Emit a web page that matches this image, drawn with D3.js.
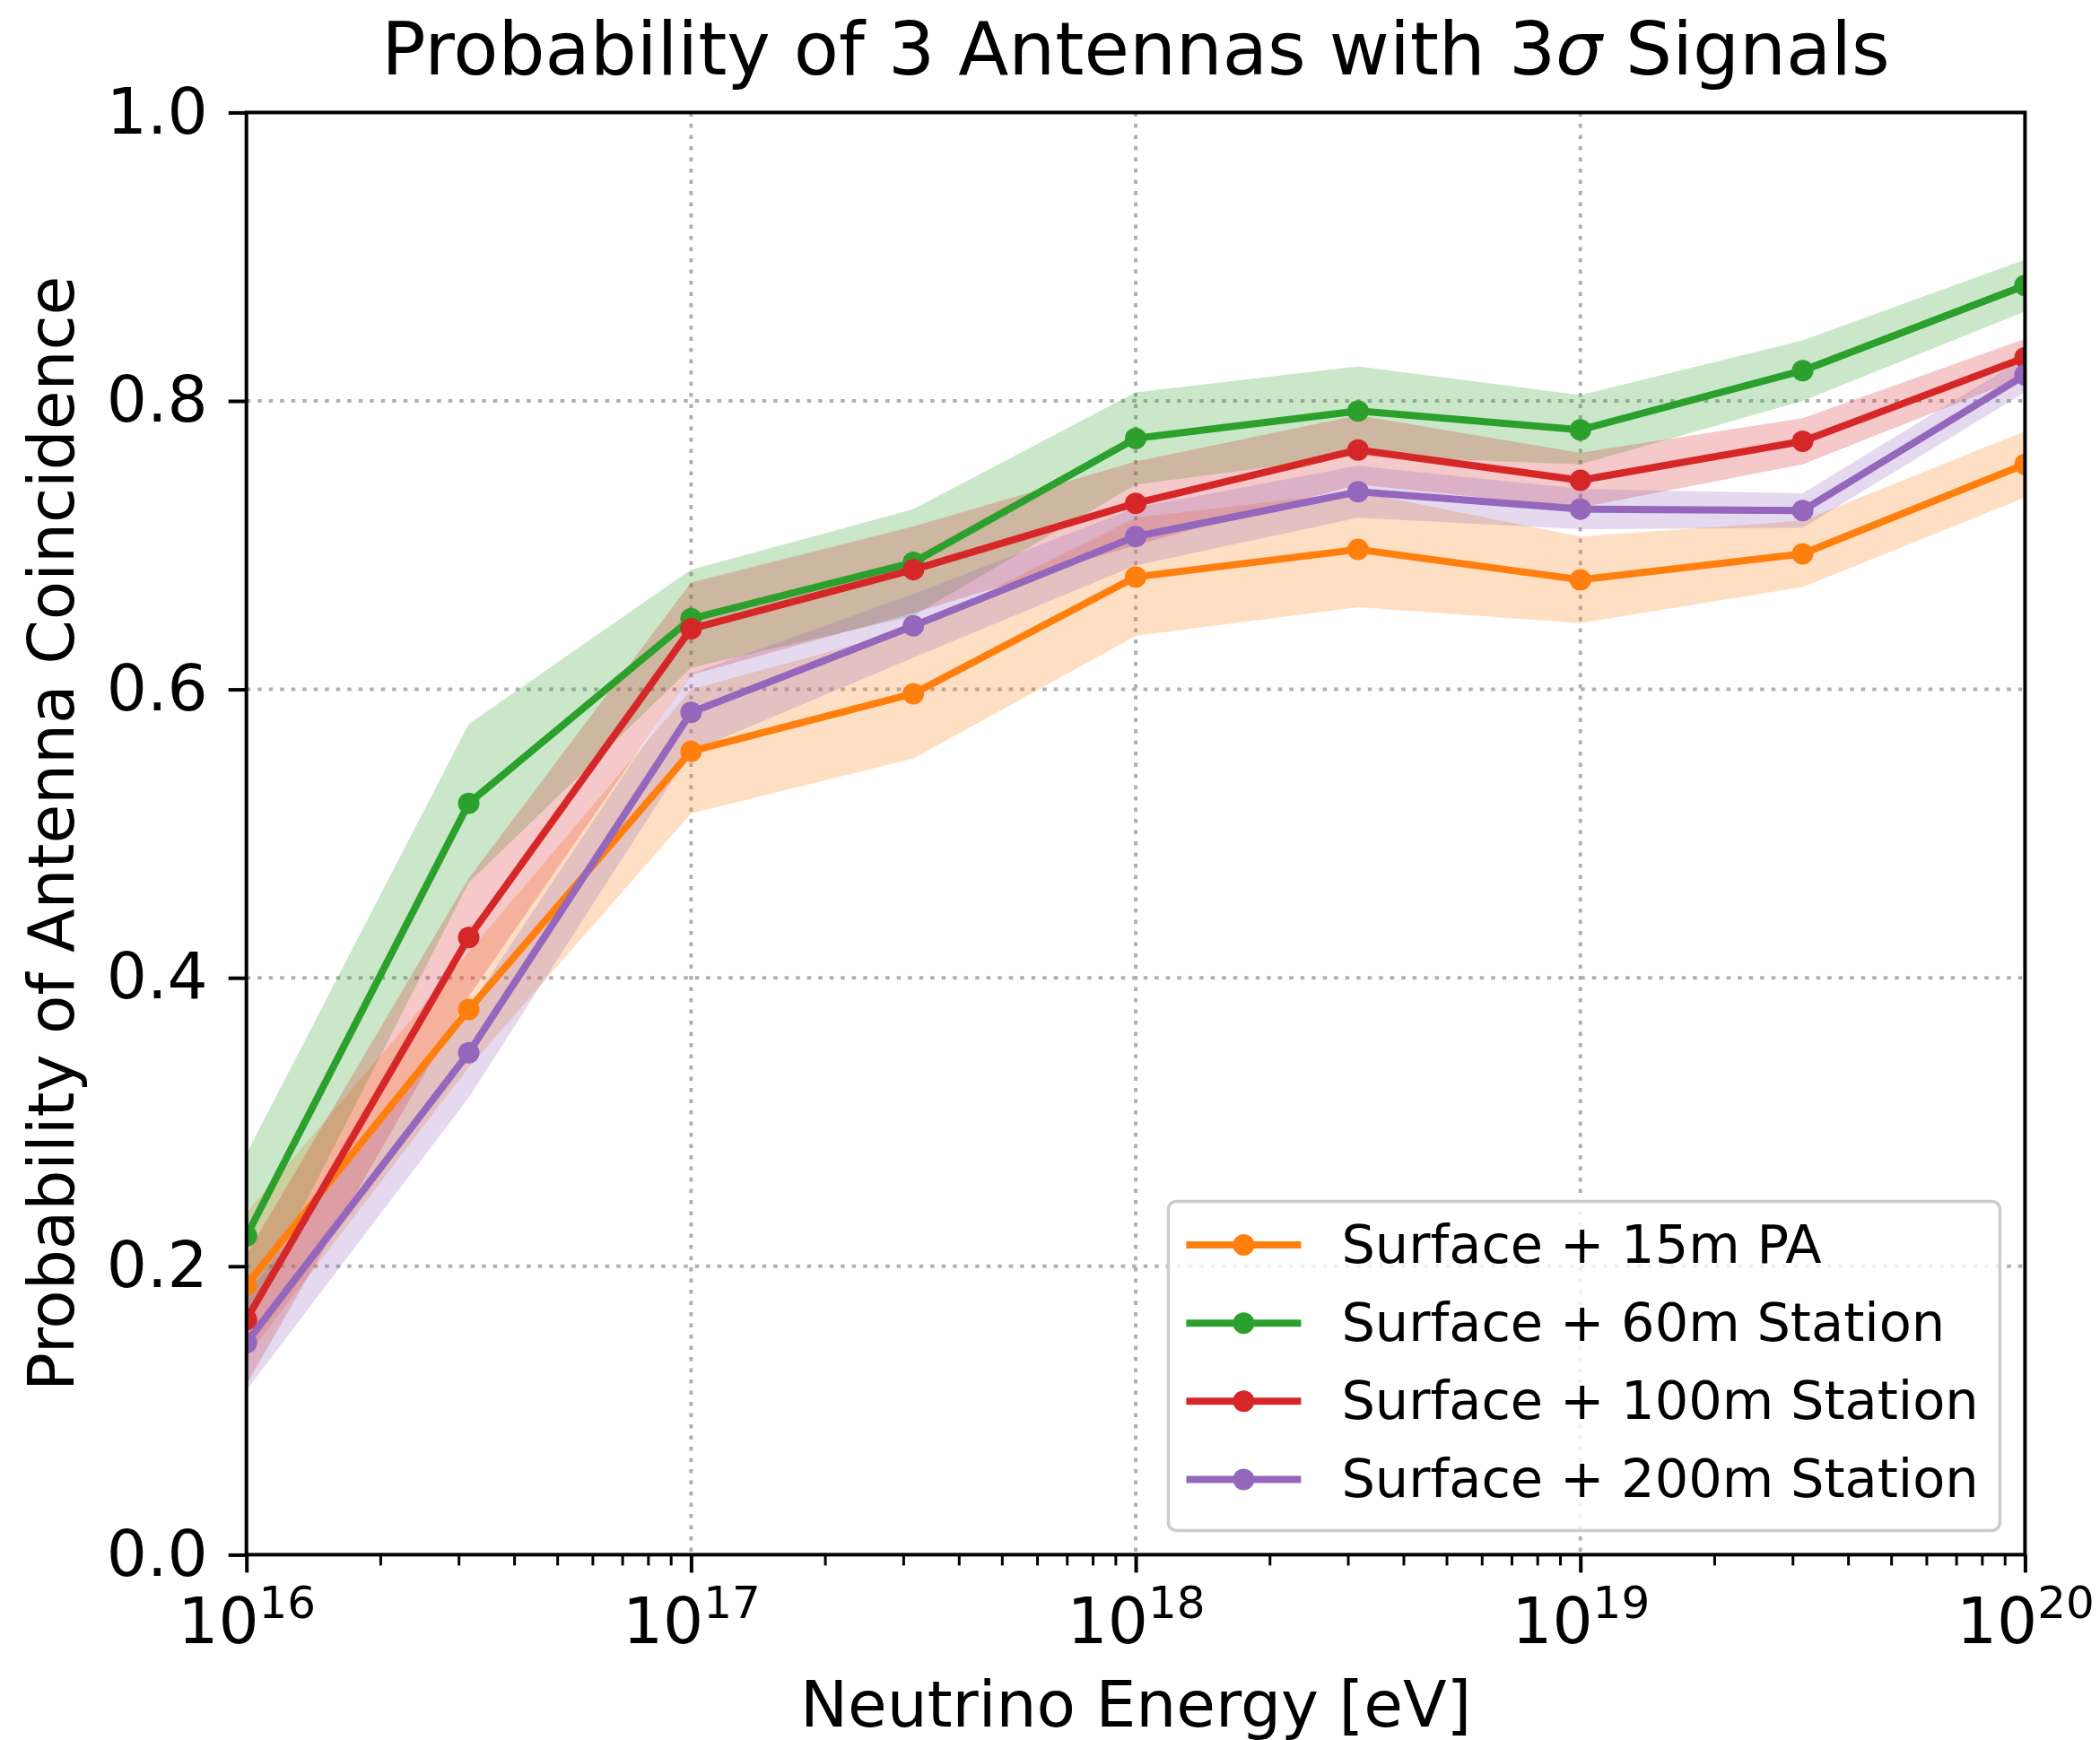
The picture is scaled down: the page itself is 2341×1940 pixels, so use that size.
<!DOCTYPE html>
<html>
<head>
<meta charset="utf-8">
<script src="https://cdn.jsdelivr.net/npm/d3@7"></script>
<style>
  body { margin: 0; background: #fff; }
  text { font-family: "DejaVu Sans", sans-serif; fill: #000; }
</style>
</head>
<body>
<div id="chart"></div>
<script>
// energies: half-decade steps from 1e16 to 1e20 eV
const energies = [1e16, 3.162e16, 1e17, 3.162e17, 1e18, 3.162e18, 1e19, 3.162e19, 1e20];

const seriesNames = ['Surface + 15m PA', 'Surface + 60m Station', 'Surface + 100m Station', 'Surface + 200m Station'];
const seriesColors = ['#ff7f0e', '#2ca02c', '#d62728', '#9467bd'];

const pa15 = [0.187, 0.378, 0.557, 0.597, 0.678, 0.697, 0.676, 0.694, 0.756];
const pa15Err = [0.050, 0.040, 0.043, 0.045, 0.041, 0.040, 0.030, 0.023, 0.023];

const st60 = [0.221, 0.521, 0.649, 0.688, 0.774, 0.793, 0.780, 0.821, 0.880];
const st60Err = [0.057, 0.055, 0.034, 0.037, 0.032, 0.031, 0.024, 0.021, 0.018];

const st100 = [0.163, 0.428, 0.642, 0.683, 0.729, 0.766, 0.745, 0.772, 0.830];
const st100Err = [0.045, 0.041, 0.032, 0.030, 0.029, 0.024, 0.019, 0.016, 0.013];

const st200 = [0.147, 0.348, 0.584, 0.644, 0.706, 0.737, 0.725, 0.724, 0.818];
const st200Err = [0.033, 0.031, 0.027, 0.022, 0.020, 0.018, 0.014, 0.012, 0.012];

const xMajorTicks = [1e16, 1e17, 1e18, 1e19, 1e20];
const xTickExp = ['16', '17', '18', '19', '20'];
const yTicks = [0, 0.2, 0.4, 0.6, 0.8, 1.0];

const dims = { width: 2341, height: 1940 };
const margin = { left: 274.7, right: 83.6, top: 125.4, bottom: 206.6 };
const W = dims.width - margin.left - margin.right;
const H = dims.height - margin.top - margin.bottom;

const LINE_W = 8;
const DOT_R = 12;

const series = [
  { name: seriesNames[0], color: seriesColors[0], vals: pa15, err: pa15Err },
  { name: seriesNames[1], color: seriesColors[1], vals: st60, err: st60Err },
  { name: seriesNames[2], color: seriesColors[2], vals: st100, err: st100Err },
  { name: seriesNames[3], color: seriesColors[3], vals: st200, err: st200Err },
];

const x = d3.scaleLog().domain([1e16, 1e20]).range([0, W]);
const y = d3.scaleLinear().domain([0, 1]).range([H, 0]);

const svg = d3.select('#chart').append('svg')
  .attr('width', dims.width)
  .attr('height', dims.height)
  .attr('viewBox', [0, 0, dims.width, dims.height]);

svg.append('defs').append('clipPath').attr('id', 'plotclip')
  .append('rect').attr('x', 0).attr('y', 0).attr('width', W).attr('height', H);

const g = svg.append('g').attr('transform', `translate(${margin.left},${margin.top})`);

// grid
const grid = g.append('g').attr('class', 'grid');
grid.selectAll('line.gy')
  .data(yTicks.filter(t => t > 0 && t < 1))
  .join('line')
  .attr('x1', 0).attr('x2', W)
  .attr('y1', d => y(d)).attr('y2', d => y(d));
grid.selectAll('line.gx')
  .data(xMajorTicks.slice(1, -1))
  .join('line')
  .attr('x1', d => x(d)).attr('x2', d => x(d))
  .attr('y1', 0).attr('y2', H);
grid.selectAll('line')
  .attr('stroke', '#b0b0b0')
  .attr('stroke-width', 4)
  .attr('stroke-dasharray', '4.5,8');

const plot = g.append('g').attr('clip-path', 'url(#plotclip)');

// uncertainty bands
const area = d3.area()
  .x((d, i) => x(energies[i]))
  .y0(d => y(d[0] - d[1]))
  .y1(d => y(d[0] + d[1]));

plot.selectAll('path.band')
  .data(series)
  .join('path')
  .attr('class', 'band')
  .attr('d', s => area(s.vals.map((v, i) => [v, s.err[i]])))
  .attr('fill', s => s.color)
  .attr('fill-opacity', 0.25)
  .attr('stroke', 'none');

const line = d3.line()
  .x((d, i) => x(energies[i]))
  .y(d => y(d));

series.forEach(s => {
  plot.append('path')
    .attr('d', line(s.vals))
    .attr('fill', 'none')
    .attr('stroke', s.color)
    .attr('stroke-width', LINE_W)
    .attr('stroke-linejoin', 'round');
  plot.selectAll(null)
    .data(s.vals)
    .join('circle')
    .attr('cx', (d, i) => x(energies[i]))
    .attr('cy', d => y(d))
    .attr('r', DOT_R)
    .attr('fill', s.color);
});

// axes
const minorTicks = [];
for (let e = 16; e < 20; e++) {
  for (let k = 2; k <= 9; k++) minorTicks.push(k * Math.pow(10, e));
}

const xAxis = g.append('g').attr('transform', `translate(0,${H})`)
  .call(d3.axisBottom(x).tickValues(xMajorTicks).tickSize(20).tickFormat(''));
const xMinor = g.append('g').attr('transform', `translate(0,${H})`)
  .call(d3.axisBottom(x).tickValues(minorTicks).tickSize(12).tickFormat(''));
const yAxis = g.append('g')
  .call(d3.axisLeft(y).tickValues(yTicks).tickSize(20).tickPadding(23).tickFormat(d3.format('.1f')));

[xAxis, xMinor, yAxis].forEach(a => a.select('.domain').remove());
xAxis.selectAll('.tick line').attr('stroke', '#000').attr('stroke-width', 4);
xMinor.selectAll('.tick line').attr('stroke', '#000').attr('stroke-width', 3);
yAxis.selectAll('.tick line').attr('stroke', '#000').attr('stroke-width', 4);
yAxis.selectAll('.tick text')
  .attr('font-size', 71)
  .attr('font-family', '"DejaVu Sans", sans-serif')
  .attr('fill', '#000');

// x tick labels as 10^n
const xl = xAxis.selectAll('.tick').append('text')
  .attr('y', 98.6)
  .attr('text-anchor', 'middle')
  .attr('font-size', 71)
  .attr('fill', '#000');
xl.append('tspan').text('10');
xl.append('tspan')
  .attr('font-size', 50)
  .attr('dy', -28)
  .text((d, i) => xTickExp[i]);

// frame
g.append('rect')
  .attr('x', 0).attr('y', 0).attr('width', W).attr('height', H)
  .attr('fill', 'none').attr('stroke', '#000').attr('stroke-width', 4);

// labels
svg.append('text')
  .attr('x', margin.left + W / 2).attr('y', 1925)
  .attr('text-anchor', 'middle')
  .attr('font-size', 71)
  .text('Neutrino Energy [eV]');

svg.append('text')
  .attr('transform', `translate(82,${margin.top + H / 2}) rotate(-90)`)
  .attr('text-anchor', 'middle')
  .attr('font-size', 71)
  .text('Probability of Antenna Coincidence');

const title = svg.append('text')
  .attr('x', margin.left + W / 2).attr('y', 83)
  .attr('text-anchor', 'middle')
  .attr('font-size', 82);
title.append('tspan').text('Probability of 3 Antennas with 3');
title.append('tspan').attr('font-style', 'italic').text('σ');
title.append('tspan').text(' Signals');

// legend
const legend = g.append('g').attr('transform', `translate(${W - 955},${H - 394})`);
legend.append('rect')
  .attr('x', 0).attr('y', 0).attr('width', 927).attr('height', 367)
  .attr('rx', 9)
  .attr('fill', '#fff').attr('fill-opacity', 0.8)
  .attr('stroke', '#cccccc').attr('stroke-width', 3.5);

const item = legend.selectAll('g.item')
  .data(series)
  .join('g')
  .attr('class', 'item')
  .attr('transform', (_, i) => `translate(0,${48.7 + i * 87.1})`);
item.append('line')
  .attr('x1', 20).attr('x2', 148)
  .attr('stroke', s => s.color).attr('stroke-width', LINE_W);
item.append('circle')
  .attr('cx', 84).attr('r', DOT_R)
  .attr('fill', s => s.color);
item.append('text')
  .attr('x', 193).attr('y', 20)
  .attr('font-size', 59)
  .text(s => s.name);
</script>
</body>
</html>
